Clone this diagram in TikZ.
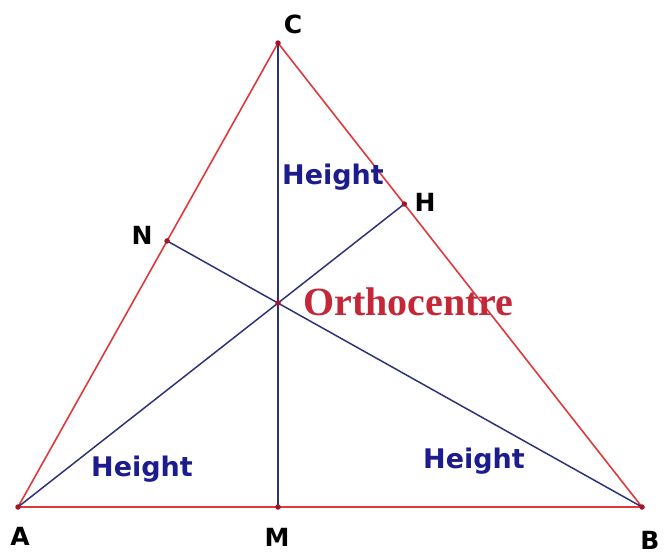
\documentclass[tikz,border=0pt]{standalone}
\usepackage{fontspec}
\setmainfont{DejaVu Sans}
\newfontfamily\lblfont{DejaVu Sans}
\newfontfamily\orthofont{Liberation Serif}
\usetikzlibrary{calc}
\definecolor{tri}{HTML}{E0383C}
\definecolor{alt}{HTML}{2E3378}
\definecolor{hgt}{HTML}{1C1C8C}
\definecolor{orth}{HTML}{C42838}
\definecolor{dot}{HTML}{A01828}
\begin{document}
\begin{tikzpicture}[x=1pt,y=-1pt,
  triside/.style={draw=tri,line width=1.6pt},
  altline/.style={draw=alt,line width=1.5pt},
  ptlbl/.style={font=\lblfont\bfseries\fontsize{25}{29}\selectfont,text=black,inner sep=0pt},
  hlbl/.style={font=\lblfont\bfseries\fontsize{27}{32}\selectfont,text=hgt,inner sep=0pt,anchor=base west},
  olbl/.style={font=\orthofont\bfseries\fontsize{40}{46}\selectfont,text=orth,inner sep=0pt,anchor=west},
  pt/.style={circle,fill=dot,inner sep=0pt,minimum size=5.5pt}]
\useasboundingbox (0,0) rectangle (664,554);
\coordinate (A) at (18,507);
\coordinate (B) at (642,507);
\coordinate (C) at (278,43);
\coordinate (M) at (278,507);
\coordinate (H) at ($(B)!(A)!(C)$);
\coordinate (N) at ($(A)!(B)!(C)$);
\coordinate (O) at (278,303);
\draw[triside] (A) -- (B) -- (C) -- cycle;
\draw[altline] (C) -- (M);
\draw[altline] (A) -- (H);
\draw[altline] (B) -- (N);
\foreach \p in {A,B,C,M,H,N,O} \node[pt] at (\p) {};
\node[ptlbl] (lA) at (20,536) {A};
\node[ptlbl] (lB) at (650,540) {B};
\node[ptlbl] (lC) at (293,24) {C};
\node[ptlbl] (lM) at (277,537) {M};
\node[ptlbl] (lH) at (425,202) {H};
\node[ptlbl] (lN) at (142,235) {N};
\node[olbl] (lO) at (303,302) {Orthocentre};
\node[hlbl] (h1) at (282,184) {Height};
\node[hlbl] (h2) at (91,476) {Height};
\node[hlbl] (h3) at (423,468) {Height};
\end{tikzpicture}
\end{document}
